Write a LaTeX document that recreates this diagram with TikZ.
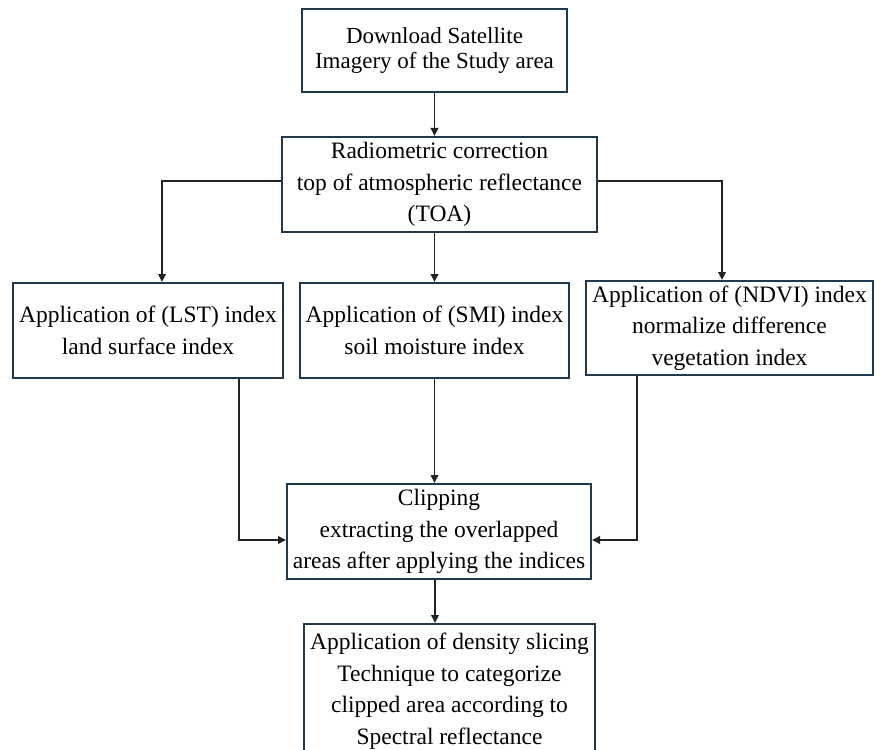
\documentclass[tikz,border=0pt]{standalone}
\usepackage{fontspec}
\setmainfont{Liberation Serif}
\usetikzlibrary{arrows.meta}
\definecolor{boxline}{HTML}{1F3A4F}
\definecolor{linkline}{HTML}{222222}
\begin{document}
\begin{tikzpicture}[x=1pt, y=-1pt,
    box/.style={draw=boxline, line width=2pt, fill=white, inner sep=1pt, align=center,
                font=\fontsize{23.5}{31.5}\selectfont},
    link/.style={draw=linkline, line width=1.9pt, -{Triangle[length=8pt,width=7.5pt]}}]
    \useasboundingbox (0,0) rectangle (880,749);

    \node [box, minimum width=265pt, minimum height=83pt, font=\fontsize{23}{24.5}\selectfont] (download) at (434.5,50.5) {Download Satellite\\Imagery of the Study area};
    \node [box, minimum width=315pt, minimum height=95pt] (toa) at (439.5,184.5) {Radiometric correction\\top of atmospheric reflectance\\(TOA)};

    \node [box, minimum width=270pt, minimum height=95pt] (lst) at (148,330.5) {Application of (LST) index\\land surface index};
    \node [box, minimum width=269pt, minimum height=95pt] (smi) at (434.5,330.5) {Application of (SMI) index\\soil moisture index};
    \node [box, minimum width=287pt, minimum height=94pt] (ndvi) at (729.5,328) {Application of (NDVI) index\\normalize difference\\vegetation index};

    \node [box, minimum width=304pt, minimum height=95pt] (clip) at (439,531.5) {Clipping\\extracting the overlapped\\areas after applying the indices};
    \node [box, minimum width=291pt, minimum height=134pt] (slicing) at (449.5,691) {Application of density slicing\\Technique to categorize\\clipped area according to\\Spectral reflectance};

    \draw [link] (download.south) -- (download.south |- toa.north) ;
    \draw [link] ([yshift=3.5pt]toa.west) -| ([xshift=14pt]lst.north) ;
    \draw [link] (toa.south -| smi.north) -- (smi.north) ;
    \draw [link] ([yshift=3.5pt]toa.east) -| ([xshift=-7.5pt]ndvi.north) ;

    \draw [link] ([xshift=91pt]lst.south) |- ([yshift=-8.5pt]clip.west) ;
    \draw [link] (smi.south) -- (smi.south |- clip.north) ;
    \draw [link] ([xshift=-92.5pt]ndvi.south) |- ([yshift=-8.5pt]clip.east) ;
    \draw [link] ([xshift=-4pt]clip.south) -- ([xshift=-4pt]clip.south |- slicing.north) ;
\end{tikzpicture}
\end{document}
